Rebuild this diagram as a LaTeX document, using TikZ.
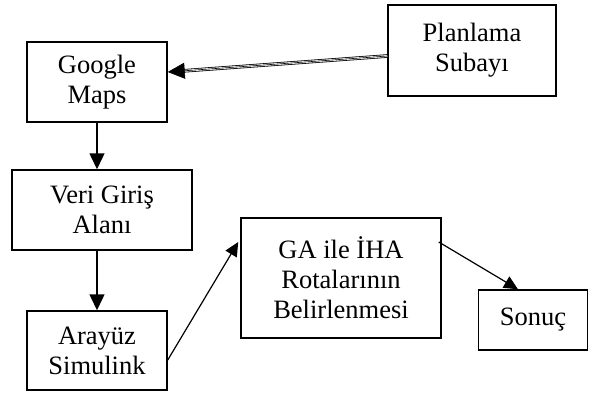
\documentclass[tikz,border=0pt]{standalone}
\usepackage{fontspec}
\setmainfont{Liberation Serif}
\usetikzlibrary{arrows.meta}
\begin{document}
\begin{tikzpicture}[x=1pt,y=-1pt,
  box/.style={draw=black,line width=1.5pt,inner sep=0pt,align=center,
    font=\fontsize{26.5}{30}\selectfont},
  arr/.style={line width=1.5pt,-{Triangle[length=16pt,width=15pt]}},
  arrthin/.style={line width=1.2pt,-{Triangle[length=14pt,width=13pt]}}]
\useasboundingbox (0,0) rectangle (589,392);
\node[box,minimum width=168pt,minimum height=91pt] (plan) at (472,50.5) {Planlama\\Subayı};
\node[box,minimum width=140pt,minimum height=80pt] (gm) at (97,82) {Google\\Maps};
\node[box,minimum width=180pt,minimum height=80pt] (veri) at (102,210) {Veri Giriş\\Alanı};
\node[box,minimum width=140pt,minimum height=79pt] (ara) at (97,350.5) {Arayüz\\Simulink};
\node[box,minimum width=200pt,minimum height=120pt] (ga) at (341,278) {GA ile İHA\\Rotalarının\\Belirlenmesi};
\node[box,minimum width=109pt,minimum height=60pt] (son) at (533,320) {Sonuç};
% double (triple-line) arrow
\draw[draw=black,line width=0.8pt,double=white,double distance=2pt,shorten >=10pt]
  ([yshift=-5.5pt]plan.west) -- ([yshift=10pt]gm.east);
\draw[line width=0.6pt,-{Triangle[length=17pt,width=16pt]}]
  ([yshift=-5.5pt]plan.west) -- ([yshift=10pt]gm.east);
\draw[arr] (gm.south) -- (gm.south |- veri.north);
\draw[arr] (ara.north |- veri.south) -- (ara.north);
\draw[arrthin] ([yshift=-9.5pt]ara.east) -- ([xshift=-2pt,yshift=36pt]ga.west);
\draw[arrthin] ([xshift=-3pt,yshift=36pt]ga.east) -- ([xshift=-15pt]son.north);
\end{tikzpicture}
\end{document}
